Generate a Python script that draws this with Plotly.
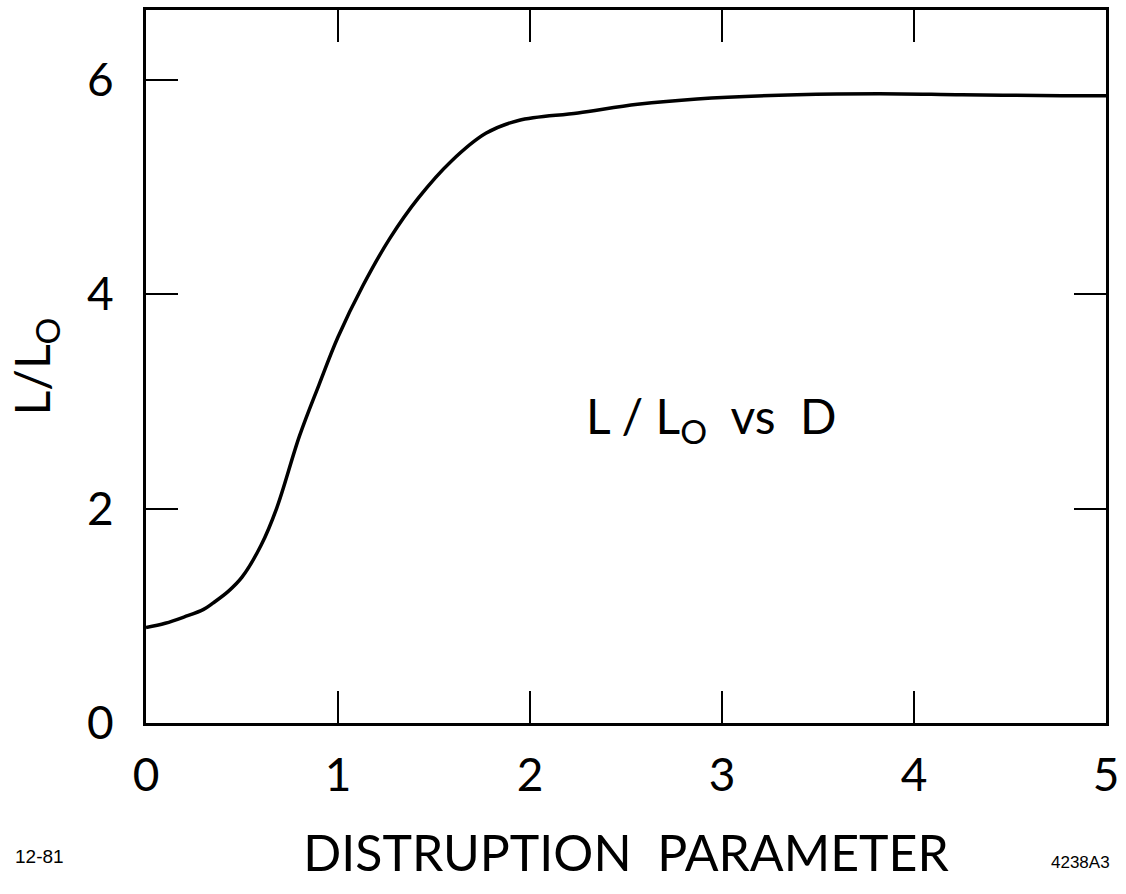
import plotly.graph_objects as go

# Data
D = [0, 0.1, 0.2, 0.3, 0.35, 0.43, 0.5, 0.6, 0.68, 0.8, 0.9, 1.0, 1.13, 1.27,
     1.42, 1.59, 1.77, 1.94, 2.25, 2.56, 2.87, 3.39, 3.82, 4.25, 4.77, 5.0]
L_ratio = [0.89, 0.93, 0.99, 1.06, 1.12, 1.23, 1.36, 1.66, 2.0, 2.68, 3.15, 3.6,
           4.08, 4.52, 4.9, 5.24, 5.5, 5.62, 5.69, 5.77, 5.82, 5.86, 5.87,
           5.86, 5.85, 5.85]

x_ticks = [0, 1, 2, 3, 4, 5]
x_ticktext = ["0", "1", "2", "3", "4", "5"]
y_ticks = [0, 2, 4, 6]
y_ticktext = ["0", "2", "4", "6"]

FONT = "Lato"

fig = go.Figure()
fig.add_trace(go.Scatter(x=D, y=L_ratio, mode="lines",
                         line=dict(color="black", width=3.5, shape="spline", smoothing=1.0),
                         showlegend=False))
# invisible trace to activate the mirrored tick axes
fig.add_trace(go.Scatter(x=[None], y=[None], xaxis="x2", yaxis="y2", showlegend=False))

fig.update_layout(
    width=1126, height=894,
    margin=dict(l=146, r=15, t=7, b=171),
    paper_bgcolor="white", plot_bgcolor="white",
    font=dict(family=FONT, color="black"),
    xaxis=dict(range=[0, 5], tickvals=x_ticks, ticktext=x_ticktext,
               ticks="inside", ticklen=32, tickwidth=2, tickcolor="black",
               showline=True, linewidth=3, linecolor="black", mirror=True,
               showgrid=False, zeroline=False,
               tickfont=dict(size=46, family=FONT), ticklabelstandoff=10,
               title=dict(text="DISTRUPTION  PARAMETER",
                          font=dict(size=50, family=FONT), standoff=36)),
    yaxis=dict(range=[0, 6.65], tickvals=y_ticks, ticktext=y_ticktext,
               ticks="inside", ticklen=32, tickwidth=2, tickcolor="black",
               showline=True, linewidth=3, linecolor="black", mirror=True,
               showgrid=False, zeroline=False,
               tickfont=dict(size=46, family=FONT), ticklabelstandoff=20,
               title=dict(text="L/L<sub>O</sub>",
                          font=dict(size=48, family=FONT), standoff=22)),
    xaxis2=dict(range=[0, 5], overlaying="x", side="top", tickvals=[1, 2, 3, 4],
                ticks="inside", ticklen=32, tickwidth=2, tickcolor="black",
                showticklabels=False, showgrid=False, zeroline=False, showline=False),
    yaxis2=dict(range=[0, 6.65], overlaying="y", side="right", tickvals=[2, 4],
                ticks="inside", ticklen=32, tickwidth=2, tickcolor="black",
                showticklabels=False, showgrid=False, zeroline=False, showline=False),
    annotations=[
        dict(x=2.28, y=2.84, xref="x", yref="y", xanchor="left", yanchor="middle",
             text="L / L<sub>O</sub>  vs  D", showarrow=False,
             font=dict(size=48, family=FONT)),
        dict(x=-0.139, y=-0.187, xref="paper", yref="paper", xanchor="left", yanchor="middle",
             text="12-81", showarrow=False, font=dict(size=19, family="Liberation Sans")),
        dict(x=1.006, y=-0.195, xref="paper", yref="paper", xanchor="right", yanchor="middle",
             text="4238A3", showarrow=False, font=dict(size=17, family="Liberation Sans")),
    ],
)

fig.write_html("out.html")
